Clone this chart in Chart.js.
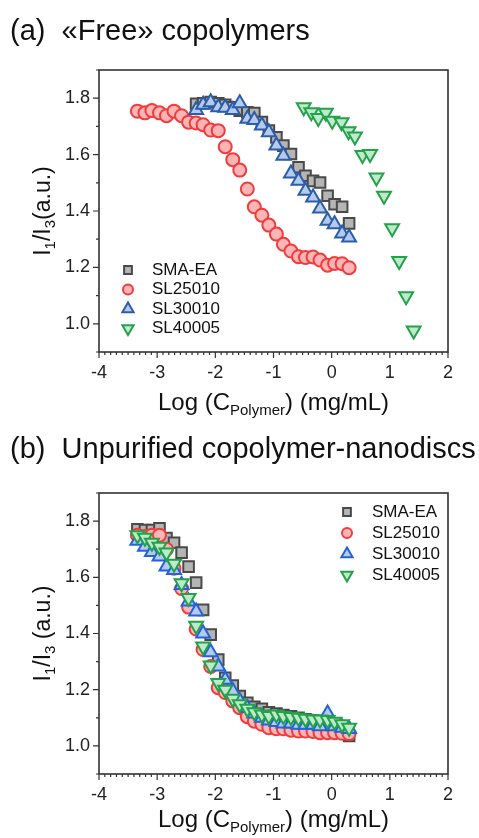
<!DOCTYPE html>
<html>
<head>
<meta charset="utf-8">
<script src="https://cdn.jsdelivr.net/npm/chart.js@4.4.0/dist/chart.umd.min.js"></script>
<style>
  body { margin: 0; background: #fff; }
  canvas { position: absolute; left: 0; }
</style>
</head>
<body>
<canvas id="chartA" width="479" height="419" style="top:0px"></canvas>
<canvas id="chartB" width="479" height="419" style="top:419px"></canvas>
<script>
var names = ['SMA-EA', 'SL25010', 'SL30010', 'SL40005']
var xTicks = [-4, -3, -2, -1, 0, 1, 2]
var yTicks = [1.0, 1.2, 1.4, 1.6, 1.8]

// log(C) positions of the dilution series
var xFull = [-3.34, -3.21, -3.09, -2.96, -2.84, -2.71, -2.58, -2.46, -2.33, -2.21, -2.08, -1.95, -1.83, -1.70, -1.58,
             -1.45, -1.33, -1.20, -1.08, -0.95, -0.83, -0.70, -0.57, -0.45, -0.32, -0.20, -0.07, 0.05, 0.18, 0.30]
var xLate = [-2.33, -2.21, -2.08, -1.95, -1.83, -1.70, -1.58, -1.45, -1.33, -1.20, -1.08, -0.95, -0.83, -0.70, -0.57,
             -0.45, -0.32, -0.20, -0.07, 0.05, 0.18, 0.30]
var xHigh = [-0.48, -0.35, -0.23, -0.10, 0.01, 0.17, 0.29, 0.40, 0.53, 0.66, 0.77, 0.90, 1.04, 1.16, 1.28, 1.41]

// (a) free copolymers
var aSMAEA = [1.780, 1.782, 1.786, 1.782, 1.777, 1.768, 1.756, 1.750, 1.747, 1.715, 1.685, 1.661, 1.632, 1.602, 1.555,
              1.525, 1.507, 1.501, 1.454, 1.424, 1.415, 1.356]
var aSL25010 = [1.754, 1.748, 1.756, 1.748, 1.738, 1.754, 1.738, 1.715, 1.712, 1.706, 1.687, 1.685, 1.628, 1.582, 1.545,
                1.478, 1.415, 1.385, 1.350, 1.318, 1.282, 1.258, 1.238, 1.235, 1.237, 1.226, 1.208, 1.214, 1.213, 1.199]
var aSL30010 = [1.758, 1.777, 1.786, 1.768, 1.766, 1.758, 1.782, 1.727, 1.723, 1.703, 1.679, 1.632, 1.596, 1.533, 1.507,
                1.472, 1.448, 1.409, 1.365, 1.353, 1.320, 1.306]
var aSL40005 = [1.768, 1.750, 1.730, 1.748, 1.720, 1.715, 1.683, 1.664, 1.599, 1.602, 1.519, 1.454, 1.339, 1.223, 1.098, 0.976]

// (b) unpurified copolymer-nanodiscs
var bSMAEA = [1.771, 1.768, 1.768, 1.774, 1.740, 1.723, 1.688, 1.638, 1.581, 1.484, 1.396, 1.307, 1.242, 1.215, 1.177,
              1.153, 1.139, 1.132, 1.120, 1.115, 1.110, 1.105, 1.100, 1.095, 1.090, 1.085, 1.080, 1.070, 1.060, 1.035]
var bSL25010 = [1.750, 1.745, 1.750, 1.750, 1.700, 1.632, 1.560, 1.494, 1.416, 1.343, 1.283, 1.207, 1.190, 1.160, 1.136,
                1.104, 1.088, 1.077, 1.065, 1.061, 1.061, 1.056, 1.053, 1.053, 1.051, 1.047, 1.047, 1.047, 1.045, 1.044]
var bSL30010 = [1.730, 1.709, 1.690, 1.674, 1.638, 1.626, 1.573, 1.514, 1.478, 1.400, 1.333, 1.283, 1.235, 1.195, 1.160,
                1.135, 1.115, 1.100, 1.090, 1.085, 1.080, 1.080, 1.075, 1.075, 1.075, 1.070, 1.115, 1.070, 1.065, 1.060]
var bSL40005 = [1.750, 1.741, 1.723, 1.709, 1.688, 1.648, 1.579, 1.526, 1.428, 1.354, 1.286, 1.224, 1.200, 1.168, 1.148,
                1.132, 1.120, 1.112, 1.106, 1.112, 1.106, 1.103, 1.100, 1.097, 1.094, 1.094, 1.092, 1.086, 1.077, 1.065]

var FONT = '"Liberation Sans", Arial, sans-serif'

function pts(xs, ys) {
    return ys.map((v, i) => ({ x: xs[i], y: v }))
}

function sets(d, blue) {
    return [
        { label: names[0], data: d[0], pointStyle: 'rect', pointRadius: 7.5, backgroundColor: '#b5b5b5', borderColor: '#4a4a4a', order: 3 },
        { label: names[1], data: d[1], pointStyle: 'circle', pointRadius: 6.5, backgroundColor: '#ffb5b5', borderColor: '#f03c3c', order: 2 },
        { label: names[2], data: d[2], pointStyle: 'triangle', pointRadius: 8, backgroundColor: '#b5cbee', borderColor: blue, order: 1 },
        { label: names[3], data: d[3], pointStyle: 'triangle', rotation: 180, pointRadius: 8, backgroundColor: '#c0e9cb', borderColor: '#22a24a', order: 0 }
    ].map(s => Object.assign(s, { borderWidth: 2, showLine: false, pointHoverRadius: s.pointRadius }))
}

// draws a run of [text, size, shift] parts centred on x
function drawParts(ctx, parts, x, y) {
    var w = 0
    parts.forEach(p => { ctx.font = p[1] + 'px ' + FONT; w += ctx.measureText(p[0]).width })
    var cx = x - w / 2
    parts.forEach(p => {
        ctx.font = p[1] + 'px ' + FONT
        ctx.fillText(p[0], cx, y + p[2])
        cx += ctx.measureText(p[0]).width
    })
}

var deco = {
    id: 'deco',
    afterDraw(chart, args, o) {
        var ctx = chart.ctx, a = chart.chartArea, sx = chart.scales.x, sy = chart.scales.y
        ctx.save()
        ctx.strokeStyle = '#333'
        ctx.lineWidth = 1.6
        ctx.strokeRect(a.left, a.top, a.right - a.left, a.bottom - a.top)
        ctx.lineWidth = 1.2
        ctx.beginPath()
        for (var i = -40; i <= 20; i++) {
            var px = sx.getPixelForValue(i / 10)
            var len = (i % 10 == 0) ? 6 : 3
            ctx.moveTo(px, a.bottom)
            ctx.lineTo(px, a.bottom + len)
        }
        for (var j = 9; j <= 19; j++) {
            var py = sy.getPixelForValue(j / 10)
            var len2 = (j % 2 == 0) ? 6 : 3
            ctx.moveTo(a.left, py)
            ctx.lineTo(a.left - len2, py)
        }
        ctx.stroke()

        ctx.fillStyle = '#111'
        ctx.textBaseline = 'alphabetic'
        ctx.textAlign = 'left'
        ctx.font = '29px ' + FONT
        ctx.fillText(o.title, 10, o.titleY)

        drawParts(ctx, [['Log (C', 24, 0], ['Polymer', 15, 5], [') (mg/mL)', 24, 0]], (a.left + a.right) / 2, o.xTitleY)

        ctx.save()
        ctx.translate(o.yTitleX, (a.top + a.bottom) / 2)
        ctx.rotate(-Math.PI / 2)
        drawParts(ctx, [['I', 23, 0], ['1', 15, 5], ['/I', 23, 0], ['3', 15, 5], [o.yUnit, 23, 0]], 0, 0)
        ctx.restore()

        // legend
        ctx.textBaseline = 'middle'
        ctx.font = '17px ' + FONT
        var lr = [5.5, 5, 6.5, 6.5]
        chart.data.datasets.forEach((ds, k) => {
            var ly = o.legendY[k]
            ctx.fillStyle = ds.backgroundColor
            ctx.strokeStyle = ds.borderColor
            ctx.lineWidth = 2
            Chart.helpers.drawPoint(ctx, { pointStyle: ds.pointStyle, rotation: ds.rotation || 0, radius: lr[k], borderWidth: 2 }, o.legendX, ly)
            ctx.fillStyle = '#111'
            ctx.fillText(ds.label, o.legendTextX, ly)
        })
        ctx.restore()
    }
}

function makeChart(id, datasets, o, padTop, xHeight) {
    return new Chart(document.getElementById(id).getContext('2d'), {
        type: 'scatter',
        data: { datasets: datasets },
        options: {
            responsive: false,
            animation: false,
            devicePixelRatio: 1,
            layout: { padding: { left: 0, right: 31, top: padTop, bottom: 0 } },
            plugins: { legend: { display: false }, tooltip: { enabled: false }, deco: o },
            scales: {
                x: {
                    min: -4, max: 2,
                    grid: { display: false, drawTicks: false },
                    border: { display: false },
                    afterBuildTicks: s => { s.ticks = xTicks.map(v => ({ value: v })) },
                    afterFit: s => { s.height = xHeight },
                    ticks: { color: '#222', font: { family: FONT, size: 18 }, padding: 10, maxRotation: 0, autoSkip: false, callback: v => String(v) }
                },
                y: {
                    min: 0.9, max: 1.9,
                    grid: { display: false, drawTicks: false },
                    border: { display: false },
                    afterBuildTicks: s => { s.ticks = yTicks.map(v => ({ value: v })) },
                    afterFit: s => { s.width = 99 },
                    ticks: { color: '#222', font: { family: FONT, size: 18 }, padding: 9, autoSkip: false, callback: v => v.toFixed(1) }
                }
            }
        },
        plugins: [deco]
    })
}

makeChart('chartA', sets([pts(xLate, aSMAEA), pts(xFull, aSL25010), pts(xLate, aSL30010), pts(xHigh, aSL40005)], '#2d5da8'), {
    title: '(a)  \u00abFree\u00bb copolymers', titleY: 40, xTitleY: 410, yTitleX: 50, yUnit: '(a.u.)',
    legendX: 128, legendTextX: 152, legendY: [270, 289.5, 309, 328.5]
}, 70, 67)

makeChart('chartB', sets([pts(xFull, bSMAEA), pts(xFull, bSL25010), pts(xFull, bSL30010), pts(xFull, bSL40005)], '#2462dc'), {
    title: '(b)  Unpurified copolymer-nanodiscs', titleY: 39, xTitleY: 408, yTitleX: 50, yUnit: ' (a.u.)',
    legendX: 347, legendTextX: 372, legendY: [93, 114, 135, 156]
}, 74, 64)
</script>
</body>
</html>
